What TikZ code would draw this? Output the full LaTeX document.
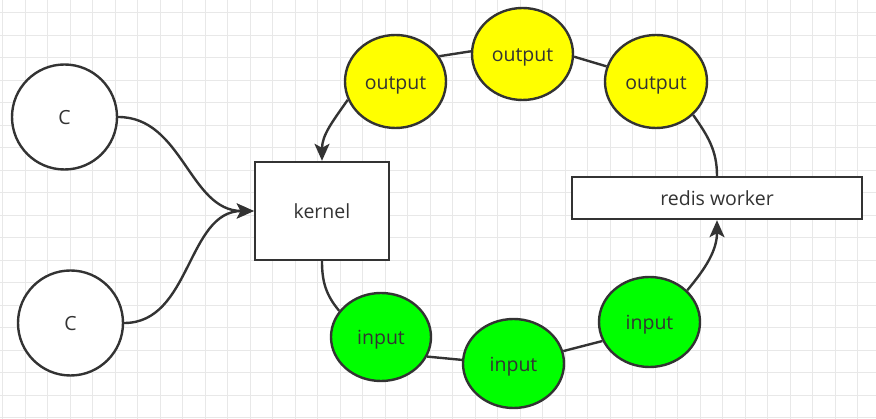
\documentclass[tikz,border=0pt]{standalone}
\usepackage{fontspec}
\setmainfont{Open Sans}
\usetikzlibrary{arrows.meta,shapes.geometric}
\definecolor{ink}{HTML}{333333}
\definecolor{gridc}{HTML}{E8E8E8}
\definecolor{outfill}{HTML}{FFFF00}
\definecolor{infill}{HTML}{00FF00}
\tikzset{
  base/.style={draw=ink, line width=2.4pt, text=ink, font=\fontsize{19.5}{23}\selectfont, inner sep=0pt, text height=15.5pt, text depth=0pt},
  circ/.style={base, circle, fill=white, minimum size=105pt},
  boxnode/.style={base, rectangle, fill=white},
  outnode/.style={base, ellipse, fill=outfill},
  innode/.style={base, ellipse, fill=infill},
  link/.style={draw=ink, line width=2.4pt},
  arr/.style={link, -{Stealth[length=17pt,width=15pt,inset=4pt]}},
}
\begin{document}
\begin{tikzpicture}[x=1pt,y=-1pt]
\useasboundingbox (0,0) rectangle (876,419);
\fill[white] (0,0) rectangle (876,419);
\begin{scope}
\clip (0,0) rectangle (876,419);
\foreach \i in {0,...,38} {\draw[gridc, line width=1pt] ({2.5+22.5*\i},0) -- ({2.5+22.5*\i},419);}
\foreach \j in {0,...,18} {\draw[gridc, line width=1pt] (0,{13+22.5*\j}) -- (876,{13+22.5*\j});}
\end{scope}

\node[circ] (c1) at (64.5,117) {C};
\node[circ] (c2) at (70.5,323) {C};
\node[boxnode, minimum width=134pt, minimum height=98pt] (kernel) at (322,211) {kernel};
\node[boxnode, minimum width=290pt, minimum height=42pt] (redis) at (717,198) {redis worker};

\node[outnode, minimum width=101pt, minimum height=93pt] (out1) at (395.5,81.5) {output};
\node[outnode, minimum width=101pt, minimum height=92pt] (out2) at (522.5,54) {output};
\node[outnode, minimum width=102pt, minimum height=93pt] (out3) at (656,81.5) {output};

\node[innode, minimum width=100pt, minimum height=88pt] (in1) at (381,337) {input};
\node[innode, minimum width=101pt, minimum height=89pt] (in2) at (513.5,363.5) {input};
\node[innode, minimum width=101pt, minimum height=90pt] (in3) at (649.5,322) {input};

\draw[arr] (c1.east) to[out=0,in=180] (kernel.west);
\draw[arr] (c2.east) to[out=0,in=180] (kernel.west);
\draw[arr] (out1.201) to[out=235,in=90] (kernel.north);
\draw[link] (kernel.south) to[out=-90,in=130] (in1.148);
\draw[link] (in1.-23) -- (in2.176);
\draw[link] (in2.14) -- (in3.202);
\draw[arr] (in3.40) to[out=50,in=-90] (redis.south);
\draw[link] (redis.north) to[out=90,in=-55] (out3.-42);
\draw[link] (out3.163) -- (out2.-3);
\draw[link] (out2.177) -- (out1.30);
\end{tikzpicture}
\end{document}
